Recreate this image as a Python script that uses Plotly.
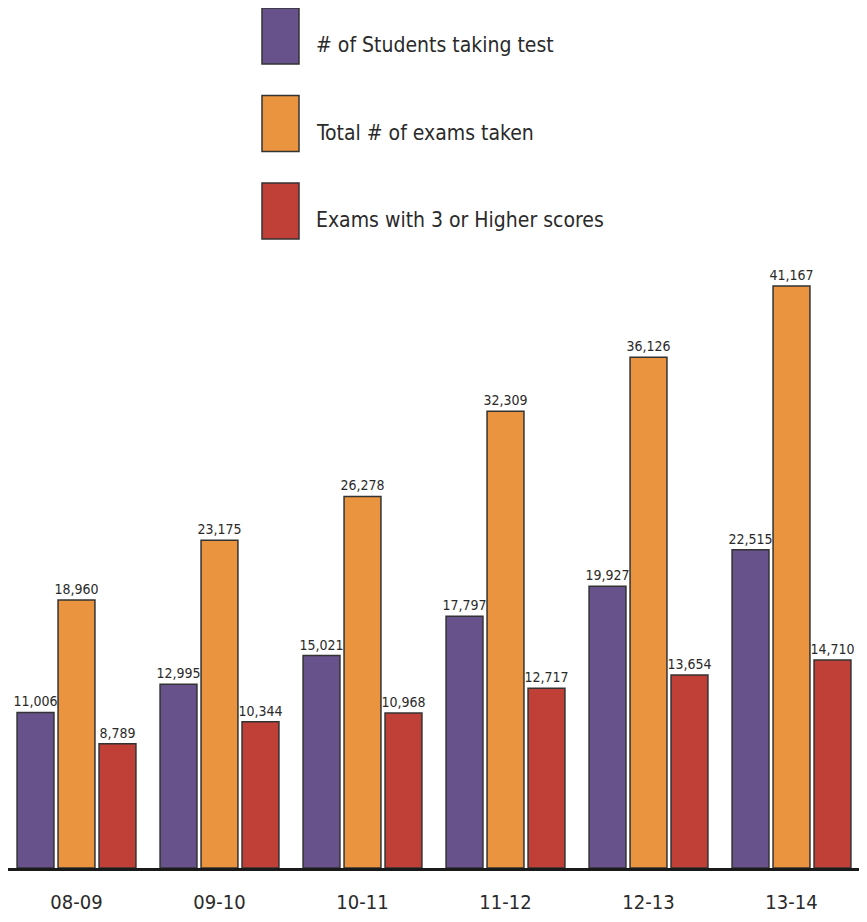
import plotly.graph_objects as go

years = ["08-09", "09-10", "10-11", "11-12", "12-13", "13-14"]
students = [11006, 12995, 15021, 17797, 19927, 22515]
exams = [18960, 23175, 26278, 32309, 36126, 41167]
passing = [8789, 10344, 10968, 12717, 13654, 14710]

names = ["# of Students taking test", "Total # of exams taken", "Exams with 3 or Higher scores"]
colors = ["#67528C", "#EB943F", "#C03F37"]
series = [students, exams, passing]

FONT = "DejaVu Sans Condensed, Liberation Sans Narrow, Arial Narrow, sans-serif"

fig = go.Figure()
for name, vals, col in zip(names, series, colors):
    fig.add_trace(go.Bar(
        x=years, y=vals, name=name,
        marker=dict(color=col, line=dict(color="#333333", width=1.5)),
        texttemplate="%{y:,}", textposition="outside", constraintext="none",
        textfont=dict(size=14, color="#2a2a2a", family=FONT),
        cliponaxis=False,
    ))

# page has an 8px body margin, so the figure is a bit smaller than the window
W, H = 859, 914
pw, ph = 855, 608
def px(x): return (x - 8) / pw      # page pixel -> paper
def py(y): return (868 - y) / ph

# legend drawn by hand: big swatches on top
for i, (name, col) in enumerate(zip(names, colors)):
    top = 8 + i * 87.5
    fig.add_shape(type="rect", xref="paper", yref="paper",
                  x0=px(262), x1=px(299), y0=py(top + 56), y1=py(top),
                  fillcolor=col, line=dict(color="#333333", width=1.5))
    fig.add_annotation(text=name, xref="paper", yref="paper",
                       x=px(314), y=py(top + 37), xanchor="left", yanchor="middle",
                       showarrow=False, font=dict(size=21, color="#2a2a2a", family=FONT))

fig.update_layout(
    width=W, height=H,
    margin=dict(l=0, r=4, t=252, b=54),
    plot_bgcolor="white", paper_bgcolor="white",
    barmode="group", bargap=0.14, bargroupgap=0.1,
    showlegend=False,
    font=dict(family=FONT, color="#2a2a2a"),
)
fig.update_xaxes(type="category", range=[-0.479, 5.5], showline=True, linecolor="#1a1a1a",
                 linewidth=2.5, ticks="", ticklabelstandoff=14, automargin=False,
                 tickfont=dict(size=20, color="#2a2a2a", family=FONT))
fig.update_yaxes(range=[0, 43000], visible=False, showgrid=False)

fig.write_html("out.html")
